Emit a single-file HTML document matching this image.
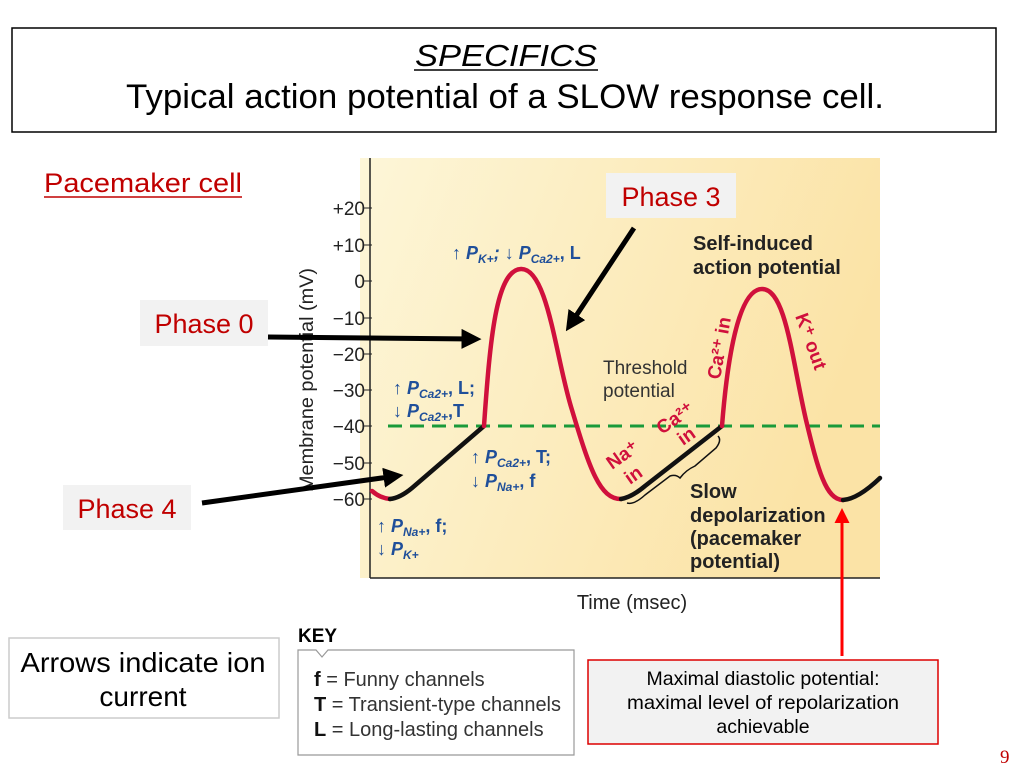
<!DOCTYPE html>
<html><head><meta charset="utf-8"><style>
html,body{margin:0;padding:0;background:#fff;}
svg{display:block;font-family:"Liberation Sans",sans-serif;}
</style></head><body>
<svg width="1024" height="775" viewBox="0 0 1024 775">
<defs>
<linearGradient id="bg" x1="0" y1="0" x2="1" y2="0.3">
<stop offset="0" stop-color="#fdf6d8"/><stop offset="1" stop-color="#fbe3a6"/>
</linearGradient>
<marker id="ab" markerWidth="4" markerHeight="4" refX="2.5" refY="2" orient="auto" markerUnits="strokeWidth"><path d="M0,0 L4,2 L0,4 z" fill="#000"/></marker>
<marker id="ar" markerWidth="5" markerHeight="5" refX="3" refY="2.5" orient="auto" markerUnits="strokeWidth"><path d="M0,0 L5,2.5 L0,5 z" fill="#f00"/></marker>
</defs>
<rect x="12" y="28" width="984" height="104" fill="#fff" stroke="#000" stroke-width="1.5"/>
<text x="506" y="66" font-size="31" font-style="italic" text-anchor="middle" textLength="182" lengthAdjust="spacingAndGlyphs">SPECIFICS</text>
<line x1="414" y1="70" x2="598" y2="70" stroke="#000" stroke-width="1.5"/>
<text x="505" y="108" font-size="34" text-anchor="middle" textLength="758" lengthAdjust="spacingAndGlyphs">Typical action potential of a SLOW response cell.</text>
<text x="44" y="192" font-size="27" fill="#c00000" textLength="198" lengthAdjust="spacingAndGlyphs">Pacemaker cell</text>
<line x1="44" y1="197" x2="242" y2="197" stroke="#c00000" stroke-width="1.5"/>
<rect x="360" y="158" width="520" height="420" fill="url(#bg)"/>
<line x1="370" y1="158" x2="370" y2="578" stroke="#222" stroke-width="1.5"/>
<line x1="370" y1="578" x2="880" y2="578" stroke="#222" stroke-width="1.5"/>
<g font-size="19" fill="#222" text-anchor="end">
<text x="365" y="215">+20</text><line x1="364" y1="208" x2="372" y2="208" stroke="#222"/>
<text x="365" y="252">+10</text><line x1="364" y1="245" x2="372" y2="245" stroke="#222"/>
<text x="365" y="288">0</text><line x1="364" y1="281" x2="372" y2="281" stroke="#222"/>
<text x="365" y="325">−10</text><line x1="364" y1="318" x2="372" y2="318" stroke="#222"/>
<text x="365" y="361">−20</text><line x1="364" y1="354" x2="372" y2="354" stroke="#222"/>
<text x="365" y="397">−30</text><line x1="364" y1="390" x2="372" y2="390" stroke="#222"/>
<text x="365" y="433">−40</text><line x1="364" y1="426" x2="372" y2="426" stroke="#222"/>
<text x="365" y="470">−50</text><line x1="364" y1="463" x2="372" y2="463" stroke="#222"/>
<text x="365" y="506">−60</text><line x1="364" y1="499" x2="372" y2="499" stroke="#222"/>
</g>
<text transform="translate(313,380) rotate(-90)" font-size="19" fill="#222" text-anchor="middle" textLength="224" lengthAdjust="spacingAndGlyphs">Membrane potential (mV)</text>
<text x="632" y="609" font-size="20" fill="#222" text-anchor="middle">Time (msec)</text>
<line x1="388" y1="426" x2="880" y2="426" stroke="#1a9a3a" stroke-width="3" stroke-dasharray="14,8"/>
<g fill="none" stroke-width="4.5" stroke-linecap="round">
<path d="M372,491 Q380,498 390,499" stroke="#d0103c"/>
<path d="M390,499 Q400,498 412,488 L484,426" stroke="#111"/>
<path d="M484,426 C490,340 496,270 521,269 C548,268 556,360 572,410 C590,470 600,499 621,499" stroke="#d0103c"/>
<path d="M621,499 Q632,497 645,486 L722,426" stroke="#111"/>
<path d="M722,426 C728,350 740,289 762,289 C786,289 792,360 806,420 C818,470 826,500 843,500" stroke="#d0103c"/>
<path d="M843,500 Q858,499 880,478" stroke="#111"/>
</g>
<path d="M627,503 Q634,505 645,495 L670,476 Q676,474 680,478 Q686,470 695,466 L716,448 Q722,440 718,436" fill="none" stroke="#111" stroke-width="1.5"/>
<g fill="#1f4f9a" font-size="18" font-weight="bold" font-style="italic">
<text x="452" y="259">↑ P<tspan font-size="12" dy="4">K+</tspan><tspan dy="-4">; ↓ P</tspan><tspan font-size="12" dy="4">Ca2+</tspan><tspan dy="-4" font-style="normal">, L</tspan></text>
<text x="393" y="394">↑ P<tspan font-size="12" dy="4">Ca2+</tspan><tspan dy="-4" font-style="normal">, L;</tspan></text>
<text x="393" y="417">↓ P<tspan font-size="12" dy="4">Ca2+</tspan><tspan dy="-4" font-style="normal">,T</tspan></text>
<text x="471" y="463">↑ P<tspan font-size="12" dy="4">Ca2+</tspan><tspan dy="-4" font-style="normal">, T;</tspan></text>
<text x="471" y="487">↓ P<tspan font-size="12" dy="4">Na+</tspan><tspan dy="-4" font-style="normal">, f</tspan></text>
<text x="377" y="532">↑ P<tspan font-size="12" dy="4">Na+</tspan><tspan dy="-4" font-style="normal">, f;</tspan></text>
<text x="377" y="555">↓ P<tspan font-size="12" dy="4">K+</tspan></text>
</g>
<g font-size="20" font-weight="bold" fill="#222">
<text x="693" y="250">Self-induced</text>
<text x="693" y="274">action potential</text>
<text x="690" y="498">Slow</text>
<text x="690" y="522">depolarization</text>
<text x="690" y="545">(pacemaker</text>
<text x="690" y="568">potential)</text>
</g>
<text x="603" y="374" font-size="19" fill="#333">Threshold</text>
<text x="603" y="397" font-size="19" fill="#333">potential</text>
<g fill="#d0103c" font-size="19" font-weight="bold">
<text transform="translate(720,380) rotate(-80)">Ca²⁺ in</text>
<text transform="translate(795,316) rotate(70)">K⁺ out</text>
<text transform="translate(612,470) rotate(-35)">Na⁺</text>
<text transform="translate(630,485) rotate(-35)">in</text>
<text transform="translate(662,435) rotate(-35)">Ca²⁺</text>
<text transform="translate(683,446) rotate(-35)">in</text>
</g>
<rect x="606" y="173" width="130" height="45" fill="#f2f2f2"/>
<text x="671" y="206" font-size="27" fill="#c00000" text-anchor="middle">Phase 3</text>
<rect x="140" y="300" width="128" height="46" fill="#f2f2f2"/>
<text x="204" y="333" font-size="27" fill="#c00000" text-anchor="middle">Phase 0</text>
<rect x="63" y="485" width="128" height="45" fill="#f2f2f2"/>
<text x="127" y="518" font-size="27" fill="#c00000" text-anchor="middle">Phase 4</text>
<g stroke="#000" stroke-width="5" marker-end="url(#ab)">
<line x1="268" y1="337" x2="474" y2="339"/>
<line x1="634" y1="228" x2="570" y2="325"/>
<line x1="202" y1="503" x2="396" y2="476"/>
</g>
<line x1="842" y1="656" x2="842" y2="514" stroke="#f00" stroke-width="3" marker-end="url(#ar)"/>
<rect x="9" y="638" width="270" height="80" fill="#fff" stroke="#ccc" stroke-width="1.5"/>
<text x="143" y="672" font-size="28" text-anchor="middle" textLength="245" lengthAdjust="spacingAndGlyphs">Arrows indicate ion</text>
<text x="143" y="706" font-size="28" text-anchor="middle">current</text>
<text x="298" y="642" font-size="19" font-weight="bold">KEY</text>
<path d="M298,650 L316,650 L322,657 L328,650 L574,650 L574,755 L298,755 Z" fill="#fff" stroke="#999" stroke-width="1.2"/>
<g font-size="20" fill="#333">
<text x="314" y="686"><tspan font-weight="bold" fill="#111">f</tspan>  = Funny channels</text>
<text x="314" y="711" textLength="247" lengthAdjust="spacingAndGlyphs"><tspan font-weight="bold" fill="#111">T</tspan> = Transient-type channels</text>
<text x="314" y="736"><tspan font-weight="bold" fill="#111">L</tspan> = Long-lasting channels</text>
</g>
<rect x="588" y="660" width="350" height="84" fill="#f2f2f2" stroke="#d00" stroke-width="1.5"/>
<g font-size="19.5" text-anchor="middle">
<text x="763" y="685">Maximal diastolic potential:</text>
<text x="763" y="709" textLength="272" lengthAdjust="spacingAndGlyphs">maximal level of repolarization</text>
<text x="763" y="733">achievable</text>
</g>
<text x="1000" y="763" font-size="19" fill="#c00000" font-family="Liberation Serif,serif">9</text>
</svg>
</body></html>
